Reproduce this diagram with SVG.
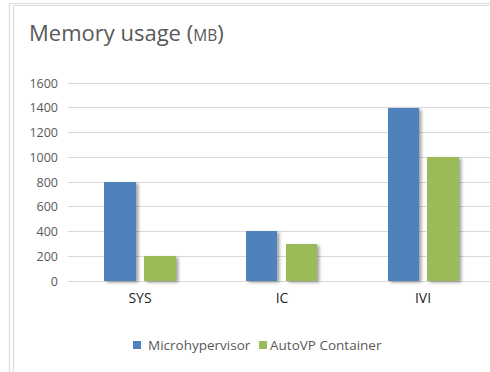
<svg xmlns="http://www.w3.org/2000/svg" width="490" height="372" viewBox="0 0 490 372">
<style>
.frame{stroke:#dcdcdc;stroke-width:1.2;fill:none}
.grid{stroke:#d9d9d9;stroke-width:1}
.ylab{font-family:"Open Sans","Liberation Sans",sans-serif;font-size:12.5px;fill:#595959;text-anchor:end}
.xlab{font-family:"Open Sans","Liberation Sans",sans-serif;font-size:14px;fill:#262626;text-anchor:middle}
.title{font-family:"Open Sans","Liberation Sans",sans-serif;font-size:22px;fill:#595959}
.leg{font-family:"Open Sans","Liberation Sans",sans-serif;font-size:13.5px;fill:#595959}
.blue{fill:#4f81bd}
.green{fill:#9bbb59}
</style>
<defs>
<filter id="sh" x="-20%" y="-20%" width="160%" height="140%">
<feDropShadow dx="2.5" dy="1.5" stdDeviation="1.5" flood-color="#000" flood-opacity="0.35"/>
</filter>
</defs>
<rect width="490" height="372" fill="#ffffff"/>
<g id="frame">
<line class="frame" x1="9" y1="3.5" x2="490" y2="3.5"/>
<line class="frame" x1="13" y1="5.5" x2="490" y2="5.5"/>
<line class="frame" x1="9.5" y1="3" x2="9.5" y2="372"/>
<line class="frame" x1="13.5" y1="5" x2="13.5" y2="372"/>
</g>
<g id="title">
<text class="title" x="29" y="41">Memory usage (<tspan font-size="15.5px">MB</tspan>)</text>
</g>
<g id="grid">
<line class="grid" x1="68" y1="83.5" x2="490" y2="83.5"/>
<line class="grid" x1="68" y1="107.5" x2="490" y2="107.5"/>
<line class="grid" x1="68" y1="132.5" x2="490" y2="132.5"/>
<line class="grid" x1="68" y1="157.5" x2="490" y2="157.5"/>
<line class="grid" x1="68" y1="182.5" x2="490" y2="182.5"/>
<line class="grid" x1="68" y1="206.5" x2="490" y2="206.5"/>
<line class="grid" x1="68" y1="231.5" x2="490" y2="231.5"/>
<line class="grid" x1="68" y1="256.5" x2="490" y2="256.5"/>
<line class="grid" x1="68" y1="281.5" x2="490" y2="281.5"/>
</g>
<g id="y-axis">
<text class="ylab" x="58" y="88">1600</text>
<text class="ylab" x="58" y="112">1400</text>
<text class="ylab" x="58" y="137">1200</text>
<text class="ylab" x="58" y="162">1000</text>
<text class="ylab" x="58" y="187">800</text>
<text class="ylab" x="58" y="211">600</text>
<text class="ylab" x="58" y="236">400</text>
<text class="ylab" x="58" y="261">200</text>
<text class="ylab" x="58" y="286">0</text>
</g>
<g id="bars" filter="url(#sh)">
<rect class="blue" x="104" y="182" width="32" height="99"/>
<rect class="green" x="144" y="256" width="32" height="25"/>
<rect class="blue" x="246" y="231" width="31" height="50"/>
<rect class="green" x="286" y="244" width="31" height="37"/>
<rect class="blue" x="388" y="108" width="31" height="173"/>
<rect class="green" x="427" y="157" width="32" height="124"/>
</g>
<g id="x-axis">
<text class="xlab" x="140" y="303">SYS</text>
<text class="xlab" x="282" y="303">IC</text>
<text class="xlab" x="423" y="303">IVI</text>
</g>
<g id="legend">
<rect class="blue" x="133" y="341" width="8" height="8"/>
<text class="leg" x="148" y="350">Microhypervisor</text>
<rect class="green" x="259" y="341" width="8" height="8"/>
<text class="leg" x="270" y="350">AutoVP Container</text>
</g>
</svg>
